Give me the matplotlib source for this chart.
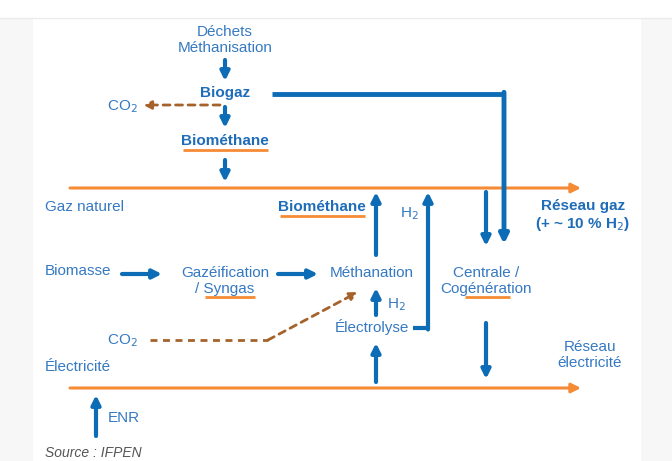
import matplotlib.pyplot as plt
from matplotlib.patches import Rectangle

plt.rcParams['font.family'] = ['Liberation Sans Narrow', 'Liberation Sans', 'DejaVu Sans']

# couleurs
BLEU_TXT = '#3579c2'
BLEU = '#0c6cb6'
ORANGE = '#f68b35'
BRUN = '#a5632b'

# noeuds du schema (texte, gras)
noeuds = ['Déchets\nMéthanisation', 'Biogaz', 'Biométhane', 'Gaz naturel', 'Biométhane',
          'Réseau gaz\n(+ ~ 10 % H$_2$)', 'Biomasse', 'Gazéification\n/ Syngas', 'Méthanation',
          'Centrale /\nCogénération', 'Électrolyse', 'Réseau\nélectricité', 'Électricité', 'ENR']
gras = [False, True, True, False, True, True, False, False, False, False, False, False, False, False]
noeuds_x = [225, 225, 225, 45, 322, 583, 45, 225, 372, 486, 372, 590, 45, 108]
noeuds_y = [40, 93, 141, 207, 207, 216, 271, 281, 273, 281, 327, 355, 367, 418]
align = ['center', 'center', 'center', 'left', 'center', 'center', 'left', 'center', 'center',
         'center', 'center', 'center', 'left', 'left']

# soulignements orange (x0, x1, y)
soulign_x0 = [183, 280, 205, 465]
soulign_x1 = [268, 365, 255, 510]
soulign_y = [150, 216, 297, 297]

# fleches bleues (queue -> pointe)
fl_x0 = [225, 225, 225, 376, 486, 122, 278, 376, 486, 376, 96]
fl_y0 = [60, 107, 160, 255, 192, 274, 274, 315, 323, 382, 436]
fl_x1 = [225, 225, 225, 376, 486, 162, 318, 376, 486, 376, 96]
fl_y1 = [81, 128, 182, 192, 246, 274, 274, 288, 379, 343, 395]

fig = plt.figure(figsize=(6.72, 4.61), dpi=100)
ax = fig.add_axes([0, 0, 1, 1])
ax.set_xlim(0, 672)
ax.set_ylim(461, 0)
ax.axis('off')

# fond
ax.add_patch(Rectangle((0, 18), 33, 443, color='#f7f7f7', lw=0))
ax.add_patch(Rectangle((641, 18), 31, 443, color='#f7f7f7', lw=0))
ax.plot([0, 672], [18, 18], color='#ebebeb', lw=1)

# textes
for t, b, x, y, a in zip(noeuds, gras, noeuds_x, noeuds_y, align):
    ax.text(x, y, t, ha=a, va='center', color=BLEU_TXT if not b else '#1f6cb8',
            fontsize=11, fontweight='bold' if b else 'normal', linespacing=1.15)

ax.text(409, 214, 'H$_2$', ha='center', va='center', color=BLEU_TXT, fontsize=11)
ax.text(396, 305, 'H$_2$', ha='center', va='center', color=BLEU_TXT, fontsize=11)
ax.text(122, 107, 'CO$_2$', ha='center', va='center', color=BLEU_TXT, fontsize=11)
ax.text(122, 341, 'CO$_2$', ha='center', va='center', color=BLEU_TXT, fontsize=11)
ax.text(45, 453, 'Source : IFPEN', ha='left', va='center', color='#555555',
        fontsize=10, style='italic')

for x0, x1, y in zip(soulign_x0, soulign_x1, soulign_y):
    ax.plot([x0, x1], [y, y], color=ORANGE, lw=2, solid_capstyle='butt')

# reseaux (lignes orange)
for y in [188, 388]:
    ax.annotate('', xy=(581, y), xytext=(70, y),
                arrowprops=dict(arrowstyle='-|>', color=ORANGE, lw=2.2, mutation_scale=14,
                                shrinkA=0, shrinkB=0))

# fleches bleues
for x0, y0, x1, y1 in zip(fl_x0, fl_y0, fl_x1, fl_y1):
    ax.annotate('', xy=(x1, y1), xytext=(x0, y0),
                arrowprops=dict(arrowstyle='-|>', color=BLEU, lw=3, mutation_scale=13,
                                shrinkA=0, shrinkB=0))

# biogaz -> reseau gaz
ax.plot([272, 504], [94, 94], color=BLEU, lw=3.5, solid_capstyle='butt')
ax.annotate('', xy=(504, 244), xytext=(504, 92.3),
            arrowprops=dict(arrowstyle='-|>', color=BLEU, lw=3.5, mutation_scale=13,
                            shrinkA=0, shrinkB=0))

# electrolyse -> H2 -> reseau gaz
ax.plot([413, 428], [328, 328], color=BLEU, lw=3, solid_capstyle='butt')
ax.annotate('', xy=(428, 192), xytext=(428, 329.5),
            arrowprops=dict(arrowstyle='-|>', color=BLEU, lw=3, mutation_scale=13,
                            shrinkA=0, shrinkB=0))

# CO2 en pointilles
ax.annotate('', xy=(143, 105), xytext=(220, 105),
            arrowprops=dict(arrowstyle='-|>', color=BRUN, lw=2, ls=(0, (2.5, 2)),
                            mutation_scale=12, shrinkA=0, shrinkB=0))
ax.plot([150, 268], [340, 340], color=BRUN, lw=2, ls=(0, (2.5, 2)))
ax.annotate('', xy=(358, 292), xytext=(268, 340),
            arrowprops=dict(arrowstyle='-|>', color=BRUN, lw=2, ls=(0, (2.5, 2)),
                            mutation_scale=12, shrinkA=0, shrinkB=0))

fig.savefig('out.png', dpi=100)
